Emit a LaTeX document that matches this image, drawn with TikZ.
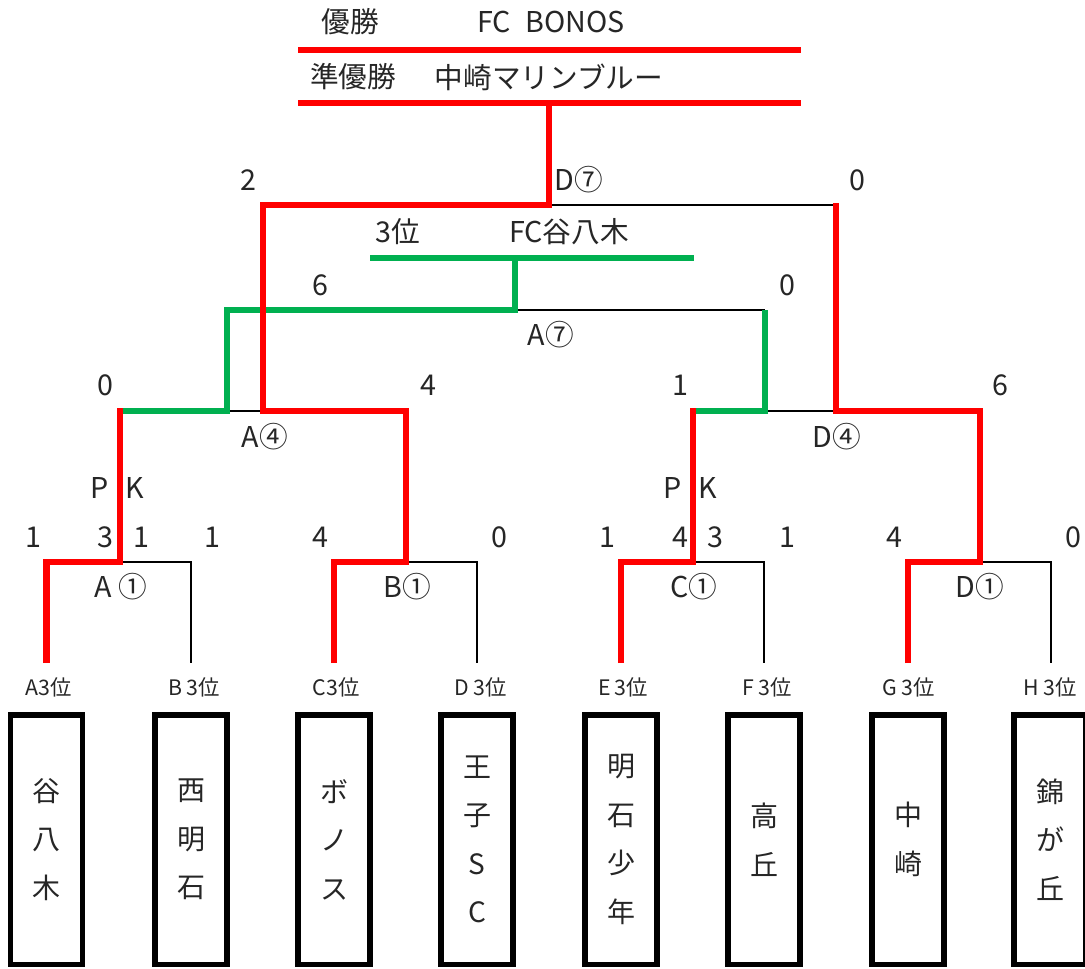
\documentclass[tikz,border=0pt]{standalone}
\usepackage{fontspec}
\setmainfont{Noto Sans CJK JP}
\definecolor{winred}{RGB}{255,0,0}
\definecolor{thirdgreen}{RGB}{0,176,80}
\definecolor{txt}{RGB}{38,38,38}
\begin{document}
\begin{tikzpicture}[x=0.75pt,y=-0.75pt,
  thin line/.style={draw=black,line width=2.2pt},
  red line/.style={draw=winred,line width=5pt,line join=miter},
  green line/.style={draw=thirdgreen,line width=5pt,line join=miter},
  lbl/.style={text=txt,font=\fontsize{21.5}{26}\selectfont,inner sep=0pt},
  leaf/.style={text=txt,font=\fontsize{16}{19}\selectfont,inner sep=0pt},
  team/.style={draw=black,line width=4pt,minimum width=54pt,minimum height=187pt,inner sep=0pt,
     text=txt,align=center,font=\fontsize{21}{36.4}\selectfont}]
\useasboundingbox (0,0) rectangle (1085,968);
% leaf tops
\coordinate (l1) at (46.5,663); \coordinate (l2) at (191,663);
\coordinate (l3) at (334,663);  \coordinate (l4) at (477,663);
\coordinate (l5) at (621,663);  \coordinate (l6) at (764,663);
\coordinate (l7) at (908,663);  \coordinate (l8) at (1051,663);
% round 1 junctions
\coordinate (a1) at (120,562); \coordinate (b1) at (406,562);
\coordinate (c1) at (693,562); \coordinate (d1) at (980,562);
% round 2
\coordinate (a4l) at (120,411); \coordinate (a4r) at (406,411);
\coordinate (a4) at (263,411);  \coordinate (g1) at (227,411);
\coordinate (d4l) at (693,411); \coordinate (d4r) at (980,411);
\coordinate (d4) at (836,411);  \coordinate (g2) at (765,411);
% third place
\coordinate (a7l) at (227,310); \coordinate (a7r) at (765,310);
\coordinate (a7) at (515,310);  \coordinate (third) at (515,258);
\coordinate (tl) at (370,258);  \coordinate (tr) at (694,258);
% final
\coordinate (d7r) at (836,205); \coordinate (d7) at (549,205);
\coordinate (top) at (549,103);
\coordinate (w1l) at (298,50);  \coordinate (w1r) at (801,50);
\coordinate (w2l) at (298,103); \coordinate (w2r) at (801,103);

% black (losing) lines
\draw[thin line] (a1) -| (l2);
\draw[thin line] (b1) -| (l4);
\draw[thin line] (c1) -| (l6);
\draw[thin line] (d1) -| (l8);
\draw[thin line] (g1) -- (a4);
\draw[thin line] (g2) -- (d4);
\draw[thin line] (a7) -- (a7r);
\draw[thin line] (d7) -- (d7r);
% green (third place) lines
\draw[green line] (a4l) -- (g1) -- (a7l) -- (a7) -- (third);
\draw[green line] (tl) -- (tr);
\draw[green line] (d4l) -- (g2) -- (a7r);
% red (winning) lines
\draw[red line] (l1) |- (a1) -- ([yshift=2.5pt]a4l);
\draw[red line] (l3) |- (b1) -- (a4r) -- (a4) |- (d7) -- (top);
\draw[red line] (l5) |- (c1) -- ([yshift=2.5pt]d4l);
\draw[red line] (l7) |- (d1) -- (d4r) -- (d4) -- ([yshift=1.5pt]d7r);
\draw[red line] (w1l) -- (w1r);
\draw[red line] (w2l) -- (w2r);

% top texts
\node[lbl] (t1) at (350,22) {優勝};
\node[lbl] (t2) at (551,22) {FC\hspace{0.5em}BONOS};
\node[lbl] (t3) at (353,77) {準優勝};
\node[lbl] (t4) at (549,77) {中崎マリンブルー};
\node[lbl] (s1) at (248,180) {2};
\node[lbl] (m1) at (579,180) {D⑦};
\node[lbl] (s2) at (857,180) {0};
\node[lbl] (t5) at (398,232) {3位};
\node[lbl] (t6) at (569,232) {FC谷八木};
\node[lbl] (s3) at (320,285) {6};
\node[lbl] (s4) at (787,285) {0};
\node[lbl] (m2) at (551,335) {A⑦};
\node[lbl] (s5) at (105,385) {0};
\node[lbl] (s6) at (428,385) {4};
\node[lbl] (s7) at (680,385) {1};
\node[lbl] (s8) at (1000,385) {6};
\node[lbl] (m3) at (265,437) {A④};
\node[lbl] (m4) at (837,437) {D④};
\node[lbl] (pk1) at (117,488) {P\hspace{0.6em}K};
\node[lbl] (pk2) at (690,488) {P\hspace{0.6em}K};
% round 1 scores
\node[lbl] (r1) at (33,537) {1};
\node[lbl] (r2) at (105,537) {3};
\node[lbl] (r3) at (141,537) {1};
\node[lbl] (r4) at (212,537) {1};
\node[lbl] (r5) at (320,537) {4};
\node[lbl] (r6) at (499,537) {0};
\node[lbl] (r7) at (607,537) {1};
\node[lbl] (r8) at (680,537) {4};
\node[lbl] (r9) at (715,537) {3};
\node[lbl] (r10) at (787,537) {1};
\node[lbl] (r11) at (894,537) {4};
\node[lbl] (r12) at (1073,537) {0};
\node[lbl] (m5) at (121,587) {A\hspace{0.25em}①};
\node[lbl] (m6) at (407,587) {B①};
\node[lbl] (m7) at (694,587) {C①};
\node[lbl] (m8) at (980,587) {D①};
% leaf labels
\node[leaf] (p1) at (49,687) {A3位};
\node[leaf] (p2) at (194,687) {B\hspace{0.2em}3位};
\node[leaf] (p3) at (336,687) {C3位};
\node[leaf] (p4) at (481,687) {D\hspace{0.2em}3位};
\node[leaf] (p5) at (623,687) {E\hspace{0.2em}3位};
\node[leaf] (p6) at (767,687) {F\hspace{0.2em}3位};
\node[leaf] (p7) at (909,687) {G\hspace{0.2em}3位};
\node[leaf] (p8) at (1050,687) {H\hspace{0.2em}3位};
% team boxes
\node[team] (b1box) at (46.5,839.5) {谷\\八\\木};
\node[team] (b2box) at (191,839.5) {西\\明\\石};
\node[team] (b3box) at (334,839.5) {ボ\\ノ\\ス};
\node[team] (b4box) at (477,839.5) {王\\子\\S\\C};
\node[team] (b5box) at (621,839.5) {明\\石\\少\\年};
\node[team] (b6box) at (764,839.5) {高\\丘};
\node[team] (b7box) at (908,839.5) {中\\崎};
\node[team] (b8box) at (1050,839.5) {錦\\が\\丘};
\end{tikzpicture}
\end{document}
